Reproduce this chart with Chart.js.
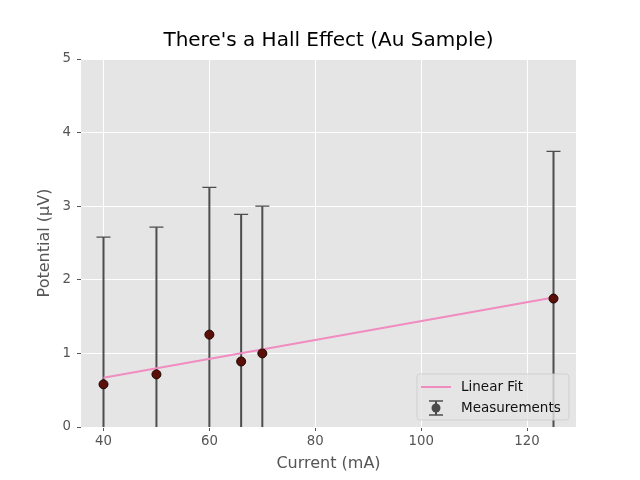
<!DOCTYPE html>
<html>
<head>
<meta charset="utf-8">
<script src="https://cdn.jsdelivr.net/npm/chart.js@4"></script>
<style>
  html, body { margin: 0; padding: 0; background: #fff; }
  #wrap { width: 640px; height: 480px; }
</style>
</head>
<body>
<div id="wrap"><canvas id="myChart" width="640" height="480"></canvas></div>
<script>
const currents = [40, 50, 60, 66, 70, 125];
const potentials = [0.58, 0.715, 1.255, 0.89, 1.0, 1.745];
const errors = [2.0, 2.0, 2.0, 2.0, 2.0, 2.0];

// fitted line end points
const fitX = [40, 125];
const fitY = [0.67, 1.76];

const xTicks = [40, 60, 80, 100, 120];
const yTicks = [0, 1, 2, 3, 4, 5];

const FONT = 'DejaVu Sans';

// grey panel behind the plot
const panelBg = {
    id: 'panelBg',
    beforeDraw(chart) {
        const { ctx, chartArea: a } = chart;
        ctx.save();
        ctx.fillStyle = '#E5E5E5';
        ctx.fillRect(a.left, a.top, a.right - a.left, a.bottom - a.top);
        ctx.restore();
    }
};

// vertical error bars with caps
const errorBars = {
    id: 'errorBars',
    beforeDatasetsDraw(chart) {
        const { ctx, chartArea: a, scales: { x, y } } = chart;
        ctx.save();
        ctx.beginPath();
        ctx.rect(a.left, a.top, a.right - a.left, a.bottom - a.top);
        ctx.clip();
        ctx.strokeStyle = '#4d4d4d';
        currents.forEach((c, i) => {
            const px = x.getPixelForValue(c);
            const top = y.getPixelForValue(potentials[i] + errors[i]);
            const bot = y.getPixelForValue(potentials[i] - errors[i]);
            ctx.lineWidth = 2;
            ctx.beginPath();
            ctx.moveTo(px, top);
            ctx.lineTo(px, bot);
            ctx.stroke();
            ctx.lineWidth = 1.3;
            ctx.beginPath();
            ctx.moveTo(px - 7, top);
            ctx.lineTo(px + 7, top);
            ctx.moveTo(px - 7, bot);
            ctx.lineTo(px + 7, bot);
            ctx.stroke();
        });
        ctx.restore();
    }
};

// legend box in the lower right corner
const cornerLegend = {
    id: 'cornerLegend',
    afterDraw(chart) {
        const { ctx } = chart;
        const bx = 417, by = 374, bw = 152, bh = 46;
        ctx.save();
        ctx.beginPath();
        ctx.roundRect(bx, by, bw, bh, 3);
        ctx.fillStyle = 'rgba(229,229,229,0.8)';
        ctx.fill();
        ctx.strokeStyle = 'rgba(204,204,204,0.8)';
        ctx.lineWidth = 1;
        ctx.stroke();

        // Linear Fit entry
        ctx.strokeStyle = '#F08CC0';
        ctx.lineWidth = 2;
        ctx.beginPath();
        ctx.moveTo(421, 387);
        ctx.lineTo(451, 387);
        ctx.stroke();

        // Measurements entry
        ctx.strokeStyle = '#4d4d4d';
        ctx.beginPath();
        ctx.moveTo(436, 401);
        ctx.lineTo(436, 415);
        ctx.stroke();
        ctx.lineWidth = 1.3;
        ctx.beginPath();
        ctx.moveTo(429, 401);
        ctx.lineTo(443, 401);
        ctx.moveTo(429, 415);
        ctx.lineTo(443, 415);
        ctx.stroke();
        ctx.beginPath();
        ctx.arc(436, 408, 4.5, 0, Math.PI * 2);
        ctx.fillStyle = '#4a4a4a';
        ctx.fill();

        ctx.fillStyle = '#111';
        ctx.font = '13.5px "' + FONT + '"';
        ctx.textBaseline = 'middle';
        ctx.fillText('Linear Fit', 461, 387);
        ctx.fillText('Measurements', 461, 408);
        ctx.restore();
    }
};

const ctx = document.getElementById('myChart').getContext('2d');
const myChart = new Chart(ctx, {
    type: 'scatter',
    data: {
        datasets: [{
            label: 'Measurements',
            data: currents.map((c, i) => ({ x: c, y: potentials[i] })),
            backgroundColor: '#5a1008',
            borderColor: '#1e0402',
            borderWidth: 1,
            pointRadius: 4.5,
            order: 0
        }, {
            type: 'line',
            label: 'Linear Fit',
            data: fitX.map((v, i) => ({ x: v, y: fitY[i] })),
            borderColor: '#F08CC0',
            borderWidth: 2,
            pointRadius: 0,
            fill: false,
            order: 1
        }]
    },
    options: {
        responsive: false,
        animation: false,
        layout: { padding: { top: 0, right: 64, bottom: 0, left: 0 } },
        plugins: {
            legend: { display: false },
            tooltip: { enabled: false },
            title: {
                display: true,
                text: "There's a Hall Effect (Au Sample)",
                color: '#000',
                fullSize: false,
                font: { family: FONT, size: 20, weight: 'normal' },
                padding: { top: 29, bottom: 6 }
            }
        },
        scales: {
            x: {
                type: 'linear',
                min: 35.75,
                max: 129.25,
                afterBuildTicks: (scale) => { scale.ticks = xTicks.map(v => ({ value: v })); },
                afterFit: (scale) => { scale.height = 53; },
                grid: { color: '#fff', lineWidth: 1, tickColor: '#555', tickLength: 4 },
                border: { display: false },
                ticks: { color: '#555', padding: 3, font: { family: FONT, size: 13.3 } },
                title: {
                    display: true,
                    text: 'Current (mA)',
                    color: '#555',
                    font: { family: FONT, size: 16 },
                    padding: { top: 4, bottom: 7 }
                }
            },
            y: {
                min: 0,
                max: 5,
                afterBuildTicks: (scale) => { scale.ticks = yTicks.map(v => ({ value: v })); },
                afterFit: (scale) => { scale.width = 81; },
                grid: { color: '#fff', lineWidth: 1, tickColor: '#555', tickLength: 4 },
                border: { display: false },
                ticks: { color: '#555', padding: 6, font: { family: FONT, size: 13.3 } },
                title: {
                    display: true,
                    text: 'Potential (μV)',
                    color: '#555',
                    font: { family: FONT, size: 16 },
                    padding: { top: 35, bottom: 4 }
                }
            }
        }
    },
    plugins: [panelBg, errorBars, cornerLegend]
});
</script>
</body>
</html>
